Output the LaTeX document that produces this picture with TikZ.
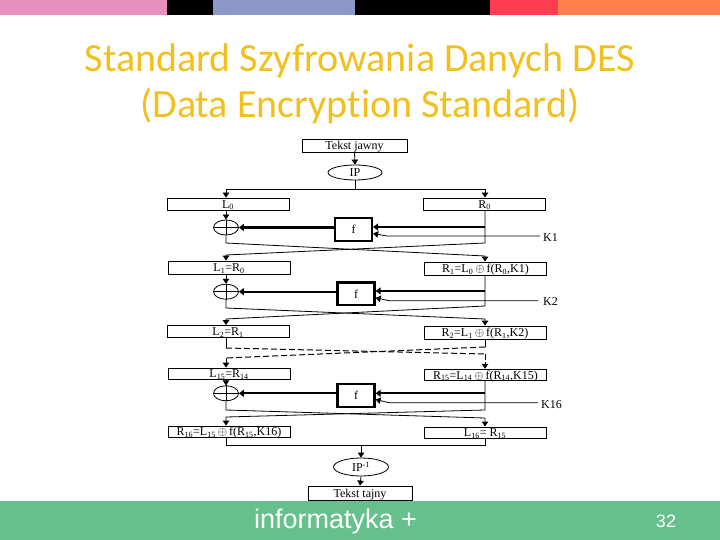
\documentclass[tikz,border=0pt]{standalone}
\usepackage{fontspec}
\setmainfont{Liberation Serif}
\newfontfamily\titlefont[Ligatures={NoCommon}]{Carlito}
\newfontfamily\footfont{Liberation Sans}
\usetikzlibrary{arrows.meta,shapes.geometric}
\definecolor{barpink}{RGB}{232,144,190}
\definecolor{barblue}{RGB}{140,152,200}
\definecolor{barred}{RGB}{255,60,80}
\definecolor{barorange}{RGB}{255,127,74}
\definecolor{titlegold}{RGB}{242,192,30}
\definecolor{footgreen}{RGB}{102,192,140}
\tikzset{
  dfont/.style={font=\fontsize{12}{14}\selectfont},
  box/.style={draw, line width=0.8pt, inner sep=0pt, minimum width=122pt, minimum height=12pt, text height=8pt, text depth=0pt, dfont},
  fbox/.style={draw, line width=2.2pt, inner sep=0pt, minimum width=37pt, minimum height=22.5pt, dfont},
  xorn/.style={draw, ellipse, line width=0.8pt, inner sep=0pt, minimum width=25pt, minimum height=15pt},
  ovalnode/.style={draw, ellipse, line width=0.8pt, inner sep=0pt, minimum width=54pt, minimum height=15pt, dfont},
  ln/.style={line width=0.8pt},
  arr/.style={ln, -{Triangle[length=5pt,width=6.5pt]}},
  thk/.style={line width=2.2pt},
  tarr/.style={thk, -{Triangle[length=5pt,width=7pt]}},
  dsh/.style={line width=1pt, dash pattern=on 6pt off 3pt},
  klab/.style={anchor=west, inner sep=0pt, dfont},
  titletext/.style={anchor=base, text=titlegold, font=\titlefont\fontsize{40}{44}\selectfont}
}
\begin{document}
\begin{tikzpicture}[x=1pt,y=-1pt]
\useasboundingbox (0,0) rectangle (720,540);
\fill[white] (0,0) rectangle (720,540);
% top bar
\fill[barpink] (0,0) rectangle (167,15);
\fill[black] (167,0) rectangle (213,15);
\fill[barblue] (213,0) rectangle (355,15);
\fill[black] (355,0) rectangle (490,15);
\fill[barred] (490,0) rectangle (558,15);
\fill[barorange] (558,0) rectangle (720,15);
% title
\node[titletext] (t1) at (360,72) {Standard Szyfrowania Danych DES};
\node[titletext] (t2) at (360,118) {(Data Encryption Standard)};
% footer
\fill[footgreen] (0,501) rectangle (720,540);
\node[anchor=base, text=white, font=\footfont\fontsize{27}{30}\selectfont] (inf) at (335.5,528) {informatyka +};
\node[anchor=base, text=white, font=\footfont\fontsize{18}{20}\selectfont] (pg) at (666,527.5) {32};

\coordinate (LC) at (226,0);
\coordinate (RC) at (485,0);

% start
\node[box, minimum width=105pt, minimum height=13pt] (tj) at (354.5,145.5) {Tekst jawny};
\node[ovalnode] (ip) at (355,172.5) {IP};
\draw[arr] (tj.south) -- (ip.north);
\coordinate (sp) at (355,189);
\draw[ln] (ip.south) -- (sp);
\draw[ln] (sp -| LC) -- (sp -| RC);
\node[box] (L0) at (228,204) {L\textsubscript{0}};
\node[box] (R0) at (484.5,204) {R\textsubscript{0}};
\draw[arr] (sp -| LC) -- (L0.north -| LC);
\draw[arr] (sp -| RC) -- (R0.north -| RC);

% round 1
\node[xorn] (x1) at (226,227.5) {};
\draw[ln] (x1.north) -- (x1.south) (x1.west) -- (x1.east);
\node[fbox] (f1) at (353.5,229.5) {f};
\draw[arr] (L0.south -| LC) -- (x1.north);
\coordinate (th1) at (485,227);
\draw[tarr] (th1) -- (th1 -| f1.east);
\draw[tarr] (x1 -| f1.west) -- (x1.east);
\coordinate (k1) at (540,236);
\draw[arr] (k1) -- (387,236) -- ([yshift=-4pt]f1.east);
\node[klab] (k1l) at (543,237.5) {K1};
\node[box, minimum height=13pt] (L1) at (229,267.5) {L\textsubscript{1}=R\textsubscript{0}};
\node[box, minimum height=13pt] (R1) at (485.5,268.5) {R\textsubscript{1}=L\textsubscript{0}\,$\oplus$\,f(R\textsubscript{0},K1)};
\draw[arr] (x1.south) -- (226,243) -- (485,256) -- (R1.north -| RC);
\draw[arr] (R0.south -| RC) -- (485,243) -- (226,255) -- (L1.north -| LC);

% round 2
\node[xorn] (x2) at (226,291.7) {};
\draw[ln] (x2.north) -- (x2.south) (x2.west) -- (x2.east);
\node[fbox] (f2) at (356,293.8) {f};
\draw[arr] (L1.south -| LC) -- (x2.north);
\coordinate (th2) at (485,291);
\draw[tarr] (th2) -- (th2 -| f2.east);
\draw[tarr] (x2 -| f2.west) -- (x2.east);
\coordinate (k2) at (538,300.7);
\draw[arr] (k2) -- (389,300.7) -- ([yshift=-4pt]f2.east);
\node[klab] (k2l) at (543,302) {K2};
\node[box] (L2) at (228,331.5) {L\textsubscript{2}=R\textsubscript{1}};
\node[box, minimum height=13pt] (R2) at (485,332.5) {R\textsubscript{2}=L\textsubscript{1}\,$\oplus$\,f(R\textsubscript{1},K2)};
\draw[arr] (x2.south) -- (226,308) -- (485,319) -- (R2.north -| RC);
\draw[arr] (R1.south -| RC) -- (485,306) -- (226,319) -- (L2.north -| LC);

% skipped rounds
\node[box, minimum height=11pt] (L15) at (229,373.5) {L\textsubscript{15}=R\textsubscript{14}};
\node[box, minimum height=11.5pt] (R15) at (485.5,375) {R\textsubscript{15}=L\textsubscript{14}\,$\oplus$\,f(R\textsubscript{14},K15)};
\draw[ln] (L2.south -| LC) -- (226,348);
\draw[dsh] (226,348) -- (485,354);
\draw[dsh] (485,354) -- (485,362);
\draw[arr] (485,362) -- (R15.north -| RC);
\draw[ln] (R2.south -| RC) -- (485,347);
\draw[dsh] (485,347) -- (226,358);
\draw[arr] (226,358) -- (L15.north -| LC);

% round 16
\node[xorn] (x3) at (226,393.3) {};
\draw[ln] (x3.north) -- (x3.south) (x3.west) -- (x3.east);
\node[fbox] (f3) at (356,395.5) {f};
\draw[arr] (L15.south -| LC) -- (x3.north);
\coordinate (th3) at (485,393.3);
\draw[tarr] (th3) -- (th3 -| f3.east);
\draw[tarr] (x3 -| f3.west) -- (x3.east);
\coordinate (k3) at (538,402.7);
\draw[arr] (k3) -- (389,402.7) -- ([yshift=-4pt]f3.east);
\node[klab] (k3l) at (541,405) {K16};
\node[box, minimum height=11pt] (R16) at (229,431.5) {R\textsubscript{16}=L\textsubscript{15}\,$\oplus$\,f(R\textsubscript{15},K16)};
\node[box, minimum height=11pt] (L16) at (485,432.5) {L\textsubscript{16}= R\textsubscript{15}};
\draw[arr] (x3.south) -- (226,410) -- (485,418) -- (L16.north -| RC);
\draw[arr] (R15.south -| RC) -- (485,410) -- (226,417) -- (R16.north -| LC);

% final
\coordinate (jn) at (361,445);
\draw[ln] (R16.south -| LC) -- (jn -| LC) -- (jn -| RC) -- (L16.south -| RC);
\node[ovalnode, minimum width=55pt, minimum height=18pt] (ipi) at (361,467) {IP\textsuperscript{-1}};
\draw[arr] (jn) -- (ipi.north);
\node[box, minimum width=104pt, minimum height=14pt] (tt) at (360,493) {Tekst tajny};
\draw[arr] (ipi.south) -- (tt.north);
\end{tikzpicture}
\end{document}
